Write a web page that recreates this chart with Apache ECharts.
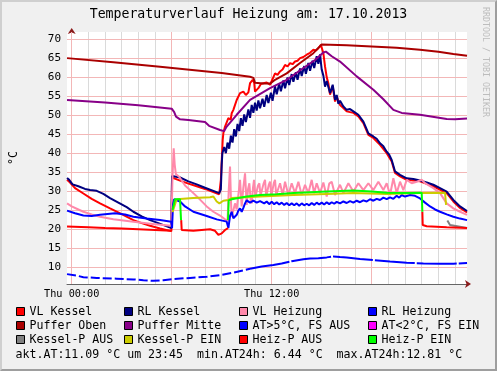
<!DOCTYPE html>
<html>
<head>
<meta charset="utf-8">
<script src="https://cdn.jsdelivr.net/npm/echarts@6/dist/echarts.min.js"></script>
<style>
html,body{margin:0;padding:0;background:#F0F0F0;}
#wrap{position:relative;width:497px;height:371px;}
#chart{position:absolute;left:0;top:0;width:497px;height:371px;}
#frame{position:absolute;left:0;top:0;width:497px;height:371px;box-sizing:border-box;border-style:solid;border-width:2px;border-color:#CFCFCF #9E9E9E #9E9E9E #CFCFCF;pointer-events:none;}
</style>
</head>
<body>
<div id="wrap"><div id="chart"></div><div id="frame"></div></div>
<script>
// ---- data (x = hours of 17.10.2013, y = °C) ----
const titleText = 'Temperaturverlauf Heizung am: 17.10.2013';
const xLabelValues = [0, 12];
const xLabelTexts = ['Thu 00:00', 'Thu 12:00'];
const yTicks = [10, 15, 20, 25, 30, 35, 40, 45, 50, 55, 60, 65, 70];
const hourMajor = [0, 6, 12, 18];
const hourMinor = [1,2,3,4,5,7,8,9,10,11,13,14,15,16,17,19,20,21,22,23];
const footerText = 'akt.AT:11.09 °C um 23:45  min.AT24h: 6.44 °C  max.AT24h:12.81 °C';

const vlKessel = [[-0.28,33.0],[-0.1,32.3],[0.2,30.8],[0.7,29.4],[1.2,28.0],[1.7,26.8],[2.3,25.5],[3.0,24.0],[3.7,22.4],[4.2,21.6],[4.7,20.9],[5.3,20.2],[5.98,19.5],
[6.02,33.6],[6.5,32.8],[7.0,32.0],[7.5,31.3],[8.0,30.6],[8.5,29.8],[8.85,29.2],
[8.95,33],[9.06,43.5],[9.1,45.3],[9.2,47.0],[9.3,47.5],[9.4,49.2],[9.54,48.8],[9.6,50.5],[9.7,51.4],[9.8,51.2],[9.9,54.0],[10.0,54.2],[10.1,55.8],[10.3,56.2],[10.45,55.3],[10.54,55.8],[10.6,56.0],[10.7,58.4],[10.86,59.3],[10.95,58.5],[11.0,56.2],[11.2,57.1],[11.35,58.2],[11.5,58.4],[11.7,58.6],[11.9,58.0],[12.05,59.5],[12.2,61.0],[12.35,60.6],[12.5,61.5],[12.65,62.0],[12.8,63.2],[12.95,62.8],[13.1,63.7],[13.25,63.4],[13.4,64.1],[13.55,64.3],[13.7,65.0],[13.9,65.3],[14.1,65.9],[14.3,66.4],[14.5,67.2],[14.65,67.0],[14.8,67.6],[14.95,68.5],[15.0,68.3],[15.1,66.3],[15.2,62.8],[15.3,60.0],
[15.4,58.4],[15.5,55.4],[15.66,57.6],[15.8,53.6],[15.9,54.8],[16.1,52.7],[16.3,51.9],[16.5,51.0],[16.9,50.6],[17.2,49.7],[17.5,47.9],[17.8,44.8],[18.1,44.0],[18.5,42.2],[18.9,40.0],[19.2,37.8],[19.4,34.8],[19.7,33.9],[20.1,33.0],[20.9,32.6],[21.7,31.3],[22.5,29.5],[22.9,27.3],[23.3,25.6],[23.72,24.4]];

const rlKessel = [[-0.28,33.5],[-0.15,33.0],[0.05,31.8],[0.4,31.3],[0.8,30.6],[1.1,30.3],[1.5,30.1],[1.9,29.3],[2.3,28.2],[2.8,27.0],[3.3,25.8],[3.7,24.6],[4.2,23.4],[4.7,22.4],[5.2,21.6],[5.98,20.3],
[6.02,34.0],[6.1,34.4],[6.5,33.6],[7.0,32.6],[7.5,31.8],[8.0,30.9],[8.5,30.1],[8.85,29.5],[8.95,30.5],[9.0,37],
[9.04,40.0],[9.15,41.6],[9.25,40.0],[9.35,42.8],[9.45,41.2],[9.55,44.6],[9.65,42.8],[9.75,46.3],[9.85,44.4],[9.95,47.7],[10.05,45.8],[10.15,49.2],[10.25,47.2],[10.35,50.2],[10.45,48.2],[10.6,51.5],[10.7,49.3],[10.8,52.7],[10.9,50.6],[11.0,53.3],[11.1,51.2],[11.2,53.9],[11.3,51.8],[11.45,54.3],[11.55,52.2],[11.7,55.3],[11.8,53.2],[11.95,55.9],[12.05,53.8],[12.2,57.6],[12.3,55.5],[12.45,58.3],[12.55,56.3],[12.7,59.1],[12.8,57.1],[12.95,59.9],[13.05,57.9],[13.2,60.8],[13.3,58.8],[13.45,61.3],[13.55,59.3],[13.7,62.3],[13.8,60.3],[13.95,62.9],[14.05,60.9],[14.2,63.7],[14.3,61.7],[14.45,64.3],[14.55,62.4],[14.7,65.5],[14.8,63.5],[14.9,66.0],
[15.0,62.0],[15.1,60.4],[15.2,57.5],[15.3,59.0],[15.4,58.8],[15.5,55.8],[15.66,58.0],[15.8,54.0],[15.9,55.3],[16.0,53.0],[16.1,53.8],[16.3,52.3],[16.5,51.4],[16.7,51.6],[16.9,51.0],[17.2,50.1],[17.5,48.3],[17.65,46.8],[17.8,45.2],[18.1,44.4],[18.3,43.8],[18.5,42.6],[18.7,41.8],[18.9,40.4],[19.05,39.6],[19.2,38.2],[19.4,35.2],[19.7,34.3],[20.1,33.4],[20.5,33.2],[20.9,32.8],[21.3,32.3],[21.7,31.7],[22.1,30.8],[22.5,29.9],[22.9,27.7],[23.3,26.0],[23.72,24.8]];

const vlHeizung = [[-0.28,26.8],[0.0,26.0],[0.4,25.2],[0.7,24.6],[1.2,23.9],[1.7,23.3],[2.5,22.6],[3.7,22.0],[5.0,21.3],[5.98,20.9],
[6.05,34.0],[6.12,41.3],[6.18,37.0],[6.25,34.5],[6.45,33.8],[6.8,31.5],[7.3,29.5],[7.7,27.8],[8.1,26.0],[8.5,24.6],[8.9,23.6],[9.2,22.6],[9.35,22.2],[9.42,30],[9.5,36.5],[9.56,27],[9.6,23.3],[9.7,25],[9.8,26.8],[9.9,25.2],
[10.0,29],[10.1,33.0],[10.2,26.0],[10.3,31],[10.4,34.7],[10.5,26.4],[10.58,30.5],[10.66,32.1],[10.74,27.5],[10.8,26.8],[10.88,31],[10.94,33.0],[11.02,28.5],[11.1,28.2],[11.18,31.5],[11.26,32.1],[11.33,28.8],[11.4,28.6],[11.5,31.8],[11.6,33.0],[11.67,28.6],[11.74,28.2],[11.82,31.6],[11.9,32.5],[11.98,28.8],[12.06,28.6],[12.13,32.2],[12.2,33.0],[12.27,29],[12.34,28.6],
[12.5,32.1],[12.66,29.0],[12.8,32.5],[13.0,29.0],[13.2,32.1],[13.4,29.5],[13.6,32.5],[13.8,29.0],[14.0,31.7],[14.2,29.5],[14.4,33.0],[14.54,29.5],[14.7,32.1],[14.9,29.5],[15.1,32.3],[15.3,28.6],[15.45,32.0],[15.6,32.5],[15.8,29.0],[16.1,31.7],[16.3,29.5],[16.6,32.1],[16.9,29.9],[17.2,32.1],[17.5,30.3],[17.8,32.1],[18.1,30.3],[18.4,32.5],[18.7,30.3],[18.9,32.1],[19.1,29.0],[19.3,33.4],[19.5,29.5],[19.7,32.5],[19.9,30.3],[20.1,33.0],[20.4,32.1],[20.7,32.5],[21.0,33.0],[21.2,32.1],[21.7,30.8],[22.1,29.5],[22.5,26.8],[22.9,25.5],[23.3,24.6],[23.72,23.8]];

const rlHeizung = [[-0.28,24.9],[0.2,24.2],[0.7,23.6],[1.2,23.5],[1.7,23.8],[2.6,24.2],[3.2,23.9],[3.7,23.3],[4.5,22.8],[5.3,22.4],[5.98,22.0],[6.02,20.3],[6.08,26.5],[6.15,27.9],[6.3,27.6],[6.5,27.3],[6.8,26.0],[7.3,24.6],[8.1,23.5],[8.7,22.6],[9.3,22.0],[9.4,20.3],[9.5,23.5],[9.6,24.6],[9.7,22.9],[9.8,23.0],[9.9,23.8],[10.0,24.9],[10.1,25.5],[10.2,24.6],[10.3,25.6],[10.4,26.8],[10.5,27.6],[10.6,27.7],[10.7,27.0],[10.8,26.8],[10.9,27.5],[11.0,27.7],[11.1,27.0],[11.2,26.8],[11.3,27.4],[11.4,27.5],[11.55,26.8],[11.7,27.3],[11.85,26.6],[12.0,27.2],[12.15,26.6],[12.3,27.1],[12.45,26.5],[12.6,27.0],[12.75,26.4],[12.9,26.9],[13.05,26.3],[13.2,26.8],[13.35,26.3],[13.5,26.8],[13.65,26.2],[13.8,26.8],[13.95,26.3],[14.1,26.7],[14.25,26.3],[14.4,26.9],[14.55,26.4],[14.7,27.0],[14.85,26.5],[15.0,27.0],[15.15,26.5],[15.3,27.1],[15.45,26.6],[15.6,27.1],[15.75,26.7],[15.9,27.2],[16.1,26.8],[16.3,27.3],[16.5,26.9],[16.7,27.4],[16.9,27.0],[17.1,27.5],[17.3,27.1],[17.5,27.6],[17.7,27.3],[17.9,27.9],[18.1,27.5],[18.3,28.0],[18.5,27.7],[18.7,28.3],[18.9,27.9],[19.1,28.4],[19.3,28.0],[19.5,28.8],[19.65,28.3],[19.8,29.0],[20.0,28.6],[20.3,29.0],[20.6,28.8],[20.9,28.1],[21.2,27.0],[21.5,26.0],[21.8,25.2],[22.1,24.6],[22.5,23.9],[22.9,23.3],[23.3,22.8],[23.72,22.4]];

const pufferOben = [[-0.28,65.0],[2.5,63.9],[5.3,62.7],[9.0,61.1],[10.7,60.1],[10.9,59.8],[11.0,58.5],[11.5,58.3],[11.9,58.3],[12.2,59.3],[12.9,61.0],[13.7,63.7],[14.5,66.3],[15.0,68.6],[16.5,68.4],[18.0,68.05],[19.5,67.7],[20.9,67.2],[22.0,66.7],[22.9,66.1],[23.72,65.6]];

const pufferMitte = [[-0.28,54.0],[2.0,53.3],[4.0,52.6],[6.0,51.7],[6.15,50.8],[6.26,49.6],[6.5,48.9],[7.0,48.7],[8.0,48.2],[8.24,47.2],[8.9,46.1],[9.14,45.8],[9.3,47.0],[9.9,50.1],[10.7,54.0],[11.9,57.1],[12.9,59.3],[13.9,62.4],[14.6,64.5],[15.1,66.5],[15.25,66.7],[15.6,65.5],[16.1,64.1],[17.1,60.2],[18.1,56.7],[18.7,54.2],[19.3,51.4],[19.8,50.6],[20.9,50.1],[22.5,49.0],[23.0,48.9],[23.72,49.1]];

const atNight = [[-0.28,8.2],[0.3,7.8],[0.7,7.4],[1.5,7.2],[2.7,7.0],[3.7,6.8],[4.3,6.6],[4.9,6.44],[5.5,6.6],[6.1,6.9],[7.1,7.2],[8.1,7.5],[9.0,8.0],[9.7,8.6],[10.2,9.1],[10.7,9.6]];
const atDay = [[10.7,9.6],[11.4,10.2],[12.1,10.6],[12.6,11.0],[13.2,11.6],[13.9,12.1],[14.3,12.3],[14.8,12.4],[15.3,12.6],[15.7,12.81],[16.1,12.7],[16.5,12.6],[17.3,12.2],[18.1,11.9],[19.1,11.5],[20.1,11.2],[21.1,11.0],[22.1,10.9],[22.9,10.95],[23.72,11.1]];
const atCold = [];

const kesselPAus = [[22.54,22.3],[22.7,21.1],[22.8,20.9],[23.72,20.3]];
const kesselPEin = [[6.05,24.5],[6.3,27.9],[7.3,28.2],[8.3,28.4],[8.5,28.6],[8.7,27.3],[8.86,26.8],[9.1,27.5],[9.4,27.7],[9.6,28.2],[11.3,28.6],[13.3,29.0],[15.3,29.3],[16.9,29.5],[18.9,29.3],[20.9,29.5],[22.4,29.6],[22.46,26.4]];
const heizPAus = [[-0.28,20.7],[1,20.5],[2,20.3],[3,20.2],[4,20.0],[5,19.8],[5.98,19.6],[6.0,'-'],
[6.57,22.4],[6.6,19.8],[7.3,19.6],[8.3,20.0],[8.6,19.6],[8.8,18.5],[9.0,18.9],[9.2,19.8],[9.38,20.3],[9.39,'-'],
[21.04,24.6],[21.06,21.1],[21.3,20.8],[22.5,20.5],[23.72,20.3]];
const heizPEin = [[6.05,25.1],[6.2,27.9],[6.5,27.9],[6.56,22.4],[6.6,'-'],
[9.38,22.4],[9.42,27.6],[9.6,27.9],[10.5,28.6],[11.3,29.0],[12.3,29.2],[13.3,29.5],[14.3,29.7],[15.3,29.9],[16.9,30.2],[18.0,29.9],[18.9,29.6],[20.1,29.5],[21.0,29.6],[21.04,24.6]];

const legendCols = [
  ['VL Kessel', 'Puffer Oben', 'Kessel-P AUS'],
  ['RL Kessel', 'Puffer Mitte', 'Kessel-P EIN'],
  ['VL Heizung', 'AT>5°C, FS AUS', 'Heiz-P AUS'],
  ['RL Heizung', 'AT<2°C, FS EIN', 'Heiz-P EIN']
];

// ---- chart ----
const FONT = 'DejaVu Sans Mono';
const XMIN = -0.282, XMAX = 23.718, YMIN = 5.6, YMAX = 71.87;
const chart = echarts.init(document.getElementById('chart'), null, {renderer: 'canvas'});

function line(name, data, color, extra) {
  return Object.assign({
    name, type: 'line', data, showSymbol: false, symbol: 'none',
    lineStyle: {color, width: 2}, itemStyle: {color},
    connectNulls: false, animation: false, z: 2
  }, extra || {});
}

const gridLines = [];
hourMinor.forEach(h => gridLines.push({xAxis: h, lineStyle: {color: '#DADADA', width: 1, type: 'solid'}}));
hourMajor.forEach(h => gridLines.push({xAxis: h, lineStyle: {color: '#F3B7B7', width: 1, type: 'solid'}}));
yTicks.forEach(v => gridLines.push({yAxis: v, lineStyle: {color: '#F3B7B7', width: 1, type: 'solid'}}));

const series = [
  {name: '__grid', type: 'line', data: [], z: 1, animation: false,
   markLine: {silent: true, symbol: 'none', z: 1, animation: false, label: {show: false}, data: gridLines}},
  line('VL Kessel', vlKessel, '#FF0000'),
  line('RL Kessel', rlKessel, '#000080'),
  line('VL Heizung', vlHeizung, '#FF88AA'),
  line('RL Heizung', rlHeizung, '#0000FF'),
  line('Puffer Oben', pufferOben, '#AA0000'),
  line('Puffer Mitte', pufferMitte, '#880088'),
  line('AT>5°C, FS AUS', atNight, '#0000FF', {lineStyle: {color: '#0000FF', width: 2, type: [9, 3]}}),
  line('AT>5°C, FS AUS', atDay, '#0000FF', {lineStyle: {color: '#0000FF', width: 2, type: [40, 2]}}),
  line('AT<2°C, FS EIN', atCold, '#FF00FF'),
  line('Kessel-P AUS', kesselPAus, '#808080'),
  line('Kessel-P EIN', kesselPEin, '#CCCC00'),
  line('Heiz-P AUS', heizPAus, '#FF0000'),
  line('Heiz-P EIN', heizPEin, '#00FF00')
];

const legendLefts = [16, 124, 239, 368];
const legends = legendCols.map((names, i) => ({
  orient: 'vertical', left: legendLefts[i], top: 304.5, padding: 0,
  itemWidth: 8, itemHeight: 8, itemGap: 0, icon: 'rect', selectedMode: false,
  itemStyle: {borderColor: '#000', borderWidth: 1},
  textStyle: {fontFamily: FONT, fontSize: 11.6, color: '#000', lineHeight: 14},
  data: names
}));

chart.setOption({
  backgroundColor: '#F0F0F0',
  animation: false,
  title: [
    {text: titleText, left: 'center', top: 8, padding: 0,
     textStyle: {fontFamily: FONT, fontSize: 13.2, fontWeight: 'normal', color: '#000'}},
    {text: footerText, left: 15.5, top: 349, padding: 0,
     textStyle: {fontFamily: FONT, fontSize: 11.6, fontWeight: 'normal', color: '#000'}}
  ],
  legend: legends,
  graphic: [{
    type: 'text', x: 485, y: 62, rotation: -Math.PI / 2, silent: true,
    style: {text: 'RRDTOOL / TOBI OETIKER', fontFamily: FONT, fontSize: 8.3, fill: '#BDBDBD', align: 'center', verticalAlign: 'middle'}
  }],
  grid: {left: 67, top: 32, width: 400, height: 252, show: true, backgroundColor: '#FFFFFF', borderWidth: 0},
  xAxis: [
    {type: 'value', min: XMIN, max: XMAX, position: 'bottom',
     axisLine: {show: true, lineStyle: {color: '#666666', width: 1}},
     axisTick: {show: false}, splitLine: {show: false},
     axisLabel: {customValues: xLabelValues, margin: 5, fontFamily: FONT, fontSize: 10.2, color: '#000',
       formatter: v => xLabelTexts[xLabelValues.indexOf(v)]}},
    {type: 'value', min: XMIN, max: XMAX, position: 'bottom',
     axisLine: {show: true, lineStyle: {color: '#8B1A1A', width: 0}, symbol: ['none', 'arrow'], symbolSize: [6, 6], symbolOffset: [0, 4]},
     axisTick: {show: false}, splitLine: {show: false}, axisLabel: {show: false}}
  ],
  yAxis: [
    {type: 'value', min: YMIN, max: YMAX, position: 'left',
     name: '°C', nameLocation: 'middle', nameGap: 47,
     nameTextStyle: {fontFamily: FONT, fontSize: 11.6, color: '#000'},
     axisLine: {show: true, lineStyle: {color: '#666666', width: 1}},
     axisTick: {show: false}, splitLine: {show: false},
     axisLabel: {customValues: yTicks, margin: 6, fontFamily: FONT, fontSize: 11, color: '#000'}},
    {type: 'value', min: YMIN, max: YMAX, position: 'left',
     axisLine: {show: true, lineStyle: {color: '#8B1A1A', width: 0}, symbol: ['none', 'arrow'], symbolSize: [6, 6], symbolOffset: [0, 4]},
     axisTick: {show: false}, splitLine: {show: false}, axisLabel: {show: false}}
  ],
  series
});
</script>
</body>
</html>
